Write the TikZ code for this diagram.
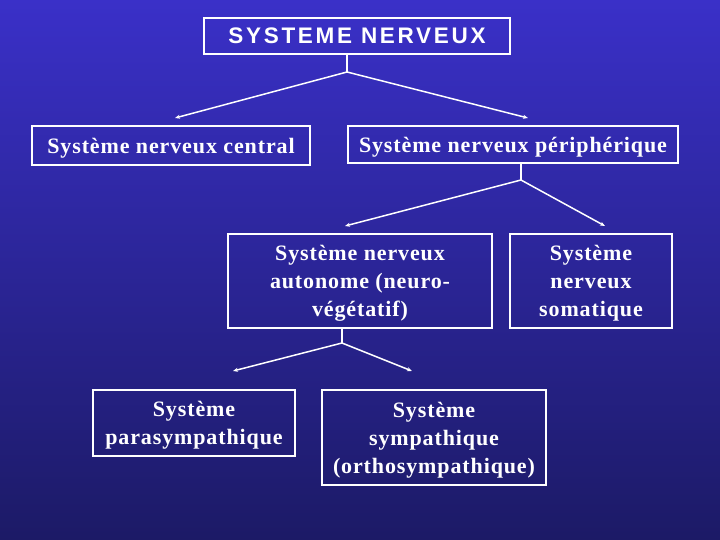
\documentclass[tikz,border=0pt]{standalone}
\usepackage{fontspec}
\setmainfont{Liberation Serif}[LetterSpace=4]
\newfontfamily\arialfont{Liberation Sans}[LetterSpace=12]
\usetikzlibrary{arrows.meta}
\definecolor{bgtop}{HTML}{3A30C8}
\definecolor{bgbot}{HTML}{1C1A66}
\begin{document}
\begin{tikzpicture}[x=1pt,y=-1pt,
  box/.style={draw=white,line width=1.5pt,inner sep=0pt},
  txt/.style={text=white,align=center,inner sep=0pt,font=\bfseries\fontsize{22}{28}\selectfont,yshift=-2.5pt},
  link/.style={draw=white,line width=1.5pt},
  arr/.style={link,-{Stealth[length=5pt,width=4pt]}}]
\shade[top color=bgtop,bottom color=bgbot] (0,0) rectangle (720,540);
\useasboundingbox (0,0) rectangle (720,540);
\node[box,text=white,minimum width=306pt,minimum height=36pt,font=\arialfont\bfseries\fontsize{22.5}{25}\selectfont] (top) at (357,36) {SYSTEME NERVEUX};
\node[box,minimum width=278pt,minimum height=39pt] (snc) at (171,145.5) {};
\node[box,minimum width=330pt,minimum height=37pt] (snp) at (513,144.5) {};
\node[box,minimum width=264pt,minimum height=94pt] (sna) at (360,281) {};
\node[box,minimum width=162pt,minimum height=94pt] (sns) at (591,281) {};
\node[box,minimum width=202pt,minimum height=66pt] (spa) at (194,423) {};
\node[box,minimum width=224pt,minimum height=95pt] (ssy) at (434,437.5) {};
\node[txt] (snc-t) at (snc.center) {Système nerveux central};
\node[txt] (snp-t) at (snp.center) {Système nerveux périphérique};
\node[txt] (sna-t) at (sna.center) {Système nerveux\\autonome (neuro-\\végétatif)};
\node[txt] (sns-t) at (sns.center) {Système\\nerveux\\somatique};
\node[txt] (spa-t) at (spa.center) {Système\\parasympathique};
\node[txt] (ssy-t) at (ssy.center) {Système\\sympathique\\(orthosympathique)};
\coordinate (j1) at (347,72);
\coordinate (e1a) at (175,118);
\coordinate (e1b) at (528,118);
\coordinate (j2) at (521,180);
\coordinate (e2a) at (345,226);
\coordinate (e2b) at (605,226);
\coordinate (j3) at (342,343);
\coordinate (e3a) at (233,371);
\coordinate (e3b) at (412,371);
\draw[link] (top.south -| j1) -- (j1);
\draw[arr] (j1) -- (e1a);
\draw[arr] (j1) -- (e1b);
\draw[link] (snp.south -| j2) -- (j2);
\draw[arr] (j2) -- (e2a);
\draw[arr] (j2) -- (e2b);
\draw[link] (sna.south -| j3) -- (j3);
\draw[arr] (j3) -- (e3a);
\draw[arr] (j3) -- (e3b);
\end{tikzpicture}
\end{document}
